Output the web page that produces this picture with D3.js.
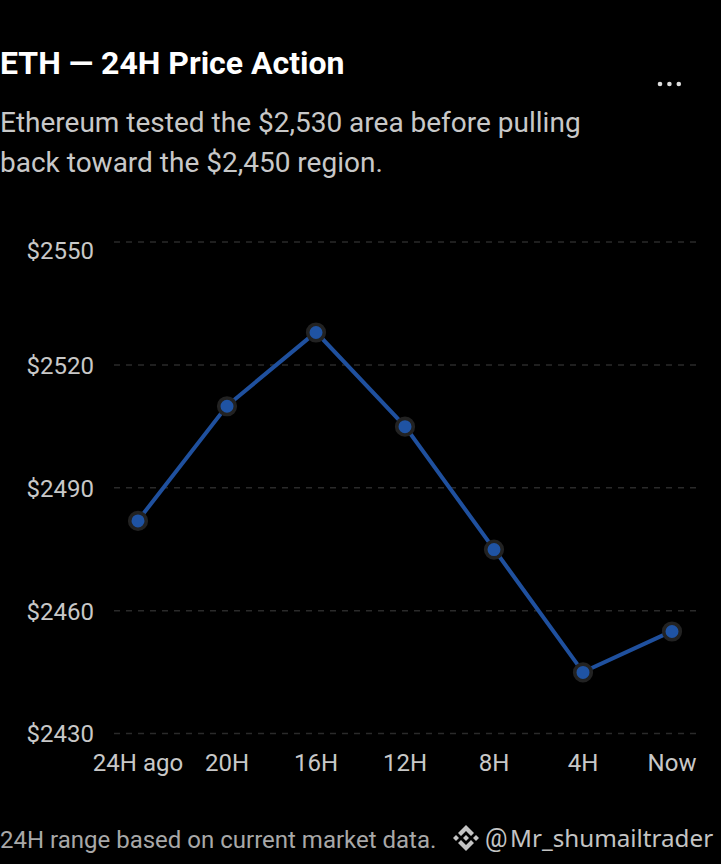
<!DOCTYPE html>
<html>
<head>
<meta charset="utf-8">
<script src="https://cdnjs.cloudflare.com/ajax/libs/d3/7.8.5/d3.min.js"></script>
<style>
html, body { margin: 0; background: #000; }
text { font-family: Roboto, sans-serif; }
</style>
</head>
<body>
<svg id="chart" width="721" height="864"></svg>
<script>
"use strict";

// Chart data
var labels = ["24H ago", "20H", "16H", "12H", "8H", "4H", "Now"];
var prices = [2482, 2510, 2528, 2505, 2475, 2445, 2455];
var yTicks = [2430, 2460, 2490, 2520, 2550];
var subtitleLines = [
	"Ethereum tested the $2,530 area before pulling",
	"back toward the $2,450 region."
];

var svg = d3.select("#chart");

svg.append("rect").attr("width", 721).attr("height", 864).attr("fill", "#000");

// Scales
var x = d3.scalePoint().domain(labels).range([138, 672]);
var y = d3.scaleLinear().domain([2430, 2550]).range([733.5, 242]);

// Title block
svg.append("text")
	.attr("x", 0).attr("y", 74)
	.attr("font-size", 32).attr("font-weight", 700).attr("fill", "#fff")
	.text("ETH — 24H Price Action");

svg.selectAll(".sub").data(subtitleLines).enter().append("text")
	.attr("class", "sub")
	.attr("x", 0)
	.attr("y", function (d, i) { return 132 + i * 40; })
	.attr("font-size", 28).attr("fill", "#c8c8c8")
	.text(function (d) { return d; });

// Menu dots
svg.selectAll(".dot3").data([0, 1, 2]).enter().append("circle")
	.attr("class", "dot3")
	.attr("cx", function (d) { return 660 + d * 9.4; })
	.attr("cy", 84).attr("r", 2.3).attr("fill", "#ddd");

// Grid lines
svg.append("g").selectAll("line").data(yTicks).enter().append("line")
	.attr("x1", 114).attr("x2", 696)
	.attr("y1", function (d) { return y(d); })
	.attr("y2", function (d) { return y(d); })
	.attr("stroke", "#2a2a2a").attr("stroke-width", 1.5)
	.attr("stroke-dasharray", "6 6");

// Y axis
var yAxis = d3.axisLeft(y).tickValues(yTicks).tickSize(0).tickPadding(20)
	.tickFormat(function (d) { return "$" + d; });
var yG = svg.append("g").attr("transform", "translate(114,0)").call(yAxis);
yG.select(".domain").remove();
yG.selectAll("text")
	.attr("font-family", "Roboto, sans-serif").attr("font-size", 24).attr("fill", "#c8c8c8")
	.attr("dy", function (d) { return d === 2550 ? "0.69em" : "0.35em"; });

// X axis
var xAxis = d3.axisBottom(x).tickSize(0).tickPadding(0);
var xG = svg.append("g").attr("transform", "translate(-0.5,754)").call(xAxis);
xG.select(".domain").remove();
xG.selectAll("text")
	.attr("font-family", "Roboto, sans-serif").attr("font-size", 24).attr("fill", "#c8c8c8");

// Price line
var line = d3.line()
	.x(function (d, i) { return x(labels[i]); })
	.y(function (d) { return y(d); });

svg.append("path").datum(prices)
	.attr("d", line)
	.attr("fill", "none").attr("stroke", "#1f509e").attr("stroke-width", 4);

svg.selectAll(".pt").data(prices).enter().append("circle")
	.attr("class", "pt")
	.attr("cx", function (d, i) { return x(labels[i]); })
	.attr("cy", function (d) { return y(d) + 0.4; })
	.attr("r", 8.3)
	.attr("fill", "#1f53a3").attr("stroke", "#222").attr("stroke-width", 3.6);

// Footer
svg.append("text")
	.attr("x", 0).attr("y", 848)
	.attr("font-size", 24).attr("fill", "#a8a8a8")
	.text("24H range based on current market data.");

// Watermark logo
var logo = svg.append("g").attr("transform", "translate(466,838)").attr("fill", "#c4c4c4");
logo.append("path").attr("d", "M0,-13 L8,-5 L5,-2 L0,-7 L-5,-2 L-8,-5 Z");
logo.append("path").attr("d", "M0,13 L8,5 L5,2 L0,7 L-5,2 L-8,5 Z");
logo.append("path").attr("d", "M0,-3 L3,0 L0,3 L-3,0 Z");
logo.append("path").attr("d", "M-10,-3 L-13,0 L-10,3 L-7,0 Z");
logo.append("path").attr("d", "M10,-3 L13,0 L10,3 L7,0 Z");

svg.append("text")
	.attr("x", 485).attr("y", 847)
	.attr("font-size", 25).attr("fill", "#c4c4c4")
	.text("@");
svg.append("text")
	.attr("x", 510).attr("y", 847)
	.style("font-family", "'Noto Sans', sans-serif")
	.attr("font-size", 24.2).attr("fill", "#c4c4c4")
	.text("Mr_shumailtrader");
</script>
</body>
</html>
